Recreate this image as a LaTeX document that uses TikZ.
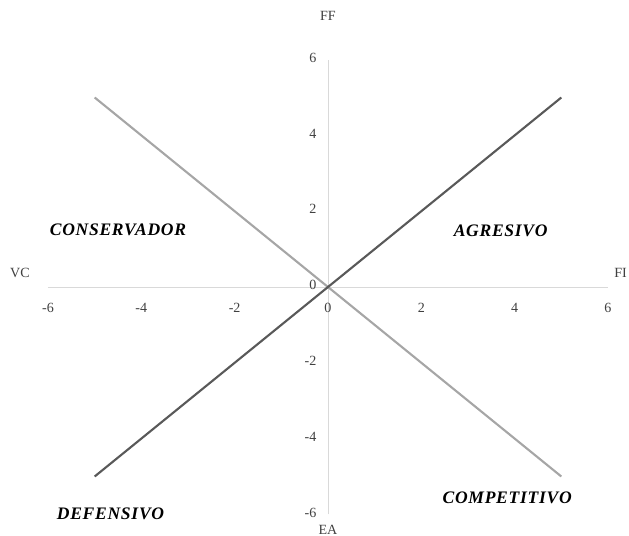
\documentclass[tikz,border=0pt]{standalone}
\usepackage{fontspec}
\setmainfont{Liberation Serif}
\usepackage{xcolor}
\definecolor{axisgray}{HTML}{D9D9D9}
\definecolor{darkline}{HTML}{595959}
\definecolor{lightline}{HTML}{A6A6A6}
\definecolor{textgray}{HTML}{404040}

\begin{document}
\begin{tikzpicture}[x=1.4cm, y=1.137cm,
    tick/.style={text=textgray, font=\fontsize{12}{14}\selectfont, inner sep=1pt},
    axlabel/.style={text=textgray, font=\fontsize{12}{14}\selectfont, inner sep=1pt},
    quad/.style={font=\fontsize{15}{17}\selectfont\bfseries\itshape\addfontfeature{LetterSpace=4}, text=black, inner sep=0pt}]

      \useasboundingbox (-9.84cm,-7.47cm) rectangle (9.03cm,8.61cm);

      % Axes ends
      \coordinate (L) at (-6,0);
      \coordinate (R) at (6,0);
      \coordinate (T) at (0,6);
      \coordinate (B) at (0,-6);
      \coordinate (O) at (0,0);

      \draw[axisgray, line width=0.8pt] (L) -- (R);
      \draw[axisgray, line width=0.8pt] (B) -- (T);

      % Tick labels
      \foreach \v in {-6,-4,-2,0,2,4,6}
        \node[tick] (x\v) at (\v,-0.55) {\v};
      \foreach \v in {-6,-4,-2,0,2,4,6}
        \node[tick, anchor=east] (y\v) at (-0.22,\v+0.05) {\v};

      % Strategy lines
      \coordinate (D1) at (-5,-5);
      \coordinate (D2) at (5,5);
      \coordinate (C1) at (-5,5);
      \coordinate (C2) at (5,-5);
      \draw[lightline, line width=1.8pt] (C1) -- (C2);
      \draw[darkline, line width=1.8pt] (D1) -- (D2);

      % Axis names
      \node[axlabel] (FF) at (0,7.15) {FF};
      \node[axlabel] (EA) at (0,-6.4) {EA};
      \node[axlabel] (VC) at (-6.6,0.37) {VC};
      \node[axlabel] (FI) at (6.27,0.37) {FI};

      % Quadrants
      \node[quad] (cons) at (-4.5,1.5) {CONSERVADOR};
      \node[quad] (agr) at (3.7,1.49) {AGRESIVO};
      \node[quad] (def) at (-4.66,-5.99) {DEFENSIVO};
      \node[quad] (comp) at (3.84,-5.56) {COMPETITIVO};

    \end{tikzpicture}
\end{document}
